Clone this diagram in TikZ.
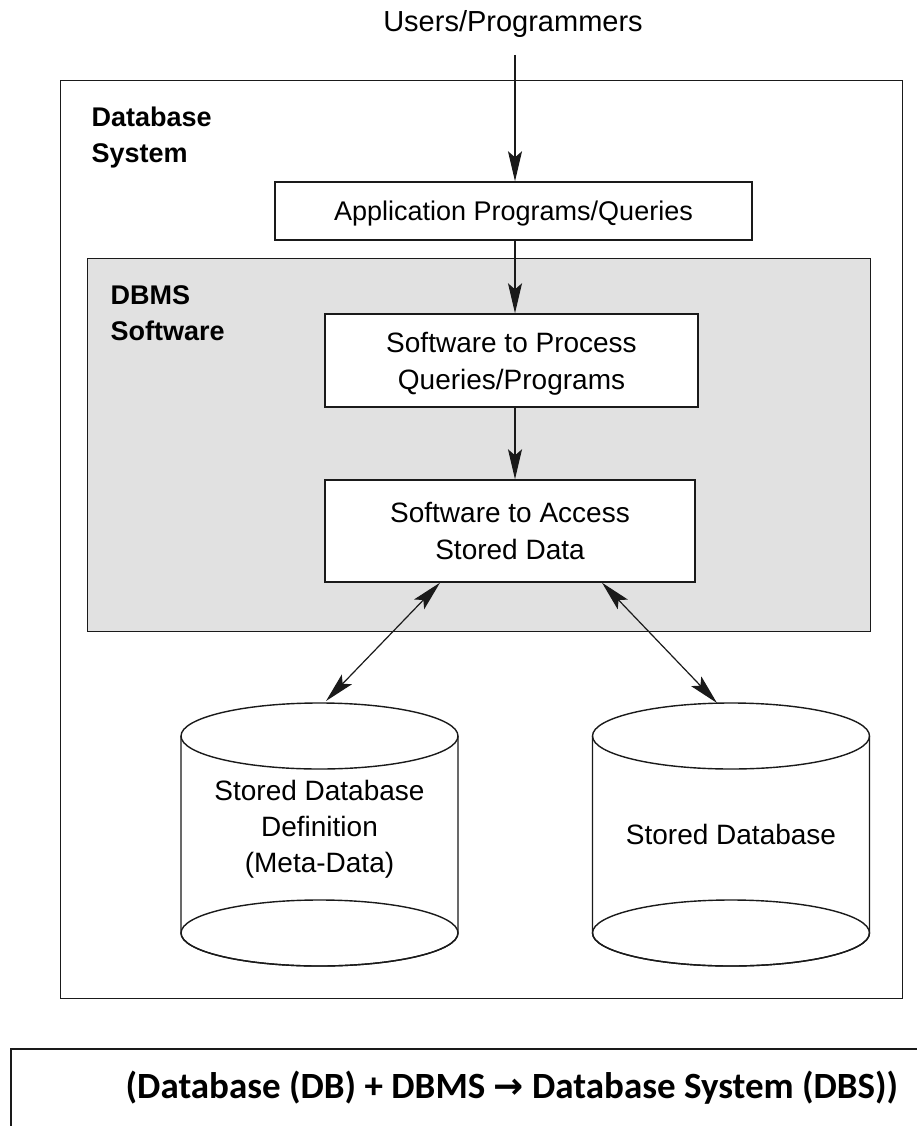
\documentclass[tikz,border=0pt]{standalone}
\usepackage{fontspec}
\setmainfont{Liberation Sans}
\newfontfamily\capfont{Carlito}
\newfontfamily\arrowfont{DejaVu Sans}
\usetikzlibrary{arrows.meta}
\definecolor{dbgray}{HTML}{E1E1E1}
\definecolor{ink}{HTML}{1A1A1A}
\begin{document}
\begin{tikzpicture}[x=1pt,y=-1pt,
  line width=1.4pt, draw=ink,
  headtip/.style={-{Stealth[length=30pt,width=14pt,inset=6pt]}},
  dheadtip/.style={{Stealth[length=30pt,width=14pt,inset=6pt]}-{Stealth[length=30pt,width=14pt,inset=6pt]}},
  boxnode/.style={draw=ink, fill=white, inner sep=0pt, align=center, text depth=0pt,
    font=\fontsize{28}{37}\selectfont},
  lbl/.style={inner sep=0pt, align=left, anchor=north west,
    font=\bfseries\fontsize{27}{36}\selectfont},
  cyltext/.style={inner sep=0pt, align=center, text depth=0pt, font=\fontsize{28}{36}\selectfont}
]
\useasboundingbox (0,0) rectangle (916,1126);
\fill[white] (0,0) rectangle (916,1126);

% outer Database System box
\node (outer) [draw=ink, minimum width=842pt, minimum height=918pt, inner sep=0pt, anchor=north west] at (60,80) {};
% DBMS Software grey box
\node (dbms) [draw=ink, fill=dbgray, minimum width=783pt, minimum height=373pt, inner sep=0pt, anchor=north west] at (87,258) {};

\node (users) [inner sep=0pt, anchor=base, font=\fontsize{29}{32}\selectfont] at (513,32) {Users/Programmers};
\coordinate (ustart) at (515,55);

\node (dbsys) [lbl] at (91,106.5) {Database\\System};
\node (dbmslbl) [lbl] at (110,284.7) {DBMS\\Software};

\node (app) [boxnode, minimum width=477pt, minimum height=58pt, font=\fontsize{27}{37}\selectfont] at (513.5,211) {Application Programs/Queries};
\node (proc) [boxnode, minimum width=373pt, minimum height=93pt] at (511.5,360.5) {Software to Process\\Queries/Programs};
\node (acc) [boxnode, minimum width=370pt, minimum height=102pt] at (510,531) {Software to Access\\Stored Data};

% cylinders
\def\cylinder#1#2#3{% name, center x, rx
  \draw[ink, fill=white] (#2-#3,736) -- (#2-#3,933) arc[start angle=180,end angle=360,x radius=#3,y radius=-33] -- (#2+#3,736);
  \draw[ink] (#2,736) ellipse[x radius=#3, y radius=33];
  \draw[ink] (#2,933) ellipse[x radius=#3, y radius=33];
}
\cylinder{cylL}{319.5}{138.5}
\cylinder{cylR}{731}{138.5}
\coordinate (cylLin) at (326,701);
\coordinate (cylRin) at (717,703);
\node (meta) [cyltext] at (319.5,826) {Stored Database\\Definition\\(Meta-Data)};
\node (sdb) [cyltext] at (731,834) {Stored Database};

% connectors
\coordinate (vx) at (515,0);
\draw[headtip] (ustart) -- (ustart |- app.north);
\draw[headtip] (vx |- app.south) -- (vx |- proc.north);
\draw[headtip] (vx |- proc.south) -- (vx |- acc.north);
\coordinate (accL) at (acc.south west -| 440,0);
\coordinate (accR) at (acc.south east -| 602,0);
\draw[dheadtip, line width=1.2pt] (accL) -- (cylLin);
\draw[dheadtip, line width=1.2pt] (accR) -- (cylRin);

% caption box
\coordinate (capTL) at (11,1049);
\draw[ink, line width=1.6pt] (11,1140) -- (capTL) -- (930,1049);
\node (caption) [inner sep=0pt, anchor=base west, font=\capfont\bfseries\fontsize{37}{40}\selectfont] at (125,1098)
  {(Database (DB) + DBMS {\arrowfont\bfseries\fontsize{36}{40}\selectfont →} Database System (DBS))};
\end{tikzpicture}
\end{document}
